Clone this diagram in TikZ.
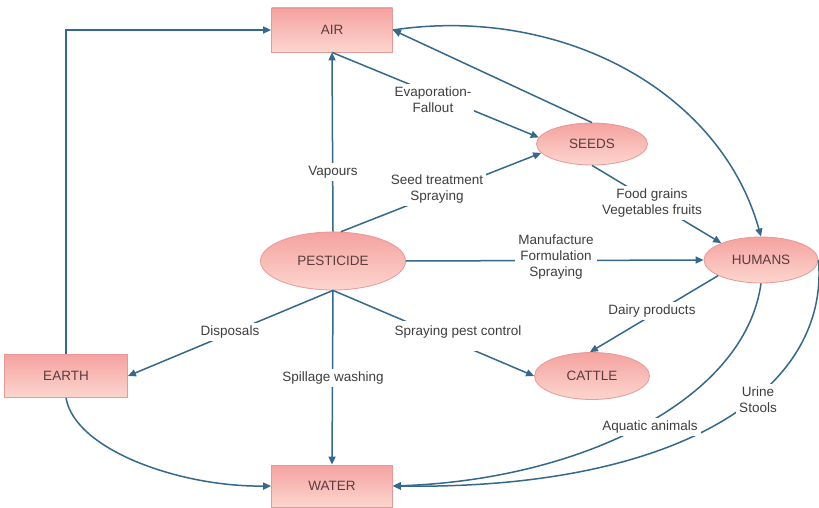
\documentclass[tikz,border=0pt]{standalone}
\usepackage{fontspec}
\setmainfont{Liberation Sans}
\usetikzlibrary{arrows.meta,shapes.geometric}
\definecolor{conncol}{RGB}{52,104,140}
\definecolor{boxtop}{RGB}{245,162,160}
\definecolor{boxbot}{RGB}{252,214,206}
\definecolor{boxdraw}{RGB}{232,152,150}
\definecolor{nodetext}{RGB}{90,60,62}
\definecolor{lbltext}{RGB}{62,62,62}
\begin{document}
\begin{tikzpicture}[x=1pt,y=-1pt,
  box/.style={rectangle, draw=boxdraw, line width=0.8pt, top color=boxtop, bottom color=boxbot,
    minimum width=121pt, minimum height=44pt, inner sep=0pt, font=\fontsize{13.5}{16}\selectfont, text=nodetext},
  oval/.style={ellipse, draw=boxdraw, line width=0.8pt, top color=boxtop, bottom color=boxbot,
    inner sep=0pt, font=\fontsize{13.5}{16}\selectfont, text=nodetext},
  conn/.style={draw=conncol, line width=1.5pt, -{Triangle[length=8pt,width=7pt]}},
  lbl/.style={fill=white, text=lbltext, font=\fontsize{13.5}{16}\selectfont, align=center, inner sep=3pt}
]
\useasboundingbox[fill=white] (0,0) rectangle (819,508);

% nodes
\node[box] (air) at (332,30) {AIR};
\node[box, minimum width=123pt, minimum height=43pt] (earth) at (66,376) {EARTH};
\node[box, minimum height=42pt] (water) at (332,486) {WATER};
\node[oval, minimum width=145pt, minimum height=58pt] (pest) at (333,261) {PESTICIDE};
\node[oval, minimum width=111pt, minimum height=42pt] (seeds) at (592,144) {SEEDS};
\node[oval, minimum width=114pt, minimum height=46pt] (humans) at (761,260) {HUMANS};
\node[oval, minimum width=115pt, minimum height=47pt] (cattle) at (592,376) {CATTLE};

% connectors
\draw[conn] (earth.north) |- (air.west);
\draw[conn] (pest.north) -- (air.south);
\draw[conn] (seeds.north) -- (air.east);
\draw[conn] (air.south) -- (seeds.173);
\draw[conn] (pest.75) -- (seeds.190);
\draw[conn] (seeds.south) -- (humans.157);
\draw[conn] (pest.east) -- (humans.west);
\draw[conn] (humans.200) -- (cattle.95);
\draw[conn] (pest.south) -- (earth.east);
\draw[conn] (pest.south) -- (water.north);
\draw[conn] (pest.south) -- (cattle.west);
\draw[conn] (air.east) .. controls (560,5) and (720,90) .. (humans.north);
\draw[conn] (humans.south) .. controls (745,400) and (580,480) .. (water.east);
\draw[conn] (humans.east) .. controls (830,390) and (680,490) .. (water.east);
\draw[conn] (earth.south) .. controls (75,450) and (180,487) .. (water.west);

% labels
\node[lbl] (lvap) at (333,172) {Vapours};
\node[lbl] (levap) at (433,100) {Evaporation-\\Fallout};
\node[lbl] (lseed) at (437,189) {Seed treatment\\Spraying};
\node[lbl] (lmanu) at (556,257) {Manufacture\\Formulation\\Spraying};
\node[lbl] (lfood) at (652,203) {Food grains\\Vegetables fruits};
\node[lbl] (ldairy) at (652,311) {Dairy products};
\node[lbl] (ldisp) at (230,332) {Disposals};
\node[lbl] (lspill) at (333,378) {Spillage washing};
\node[lbl, inner ysep=3pt, minimum height=30pt, text depth=10pt] (lspray) at (458,336) {Spraying pest control};
\node[lbl] (laqua) at (650,427) {Aquatic animals};
\node[lbl] (lurine) at (758,400) {Urine\\Stools};
\end{tikzpicture}
\end{document}
